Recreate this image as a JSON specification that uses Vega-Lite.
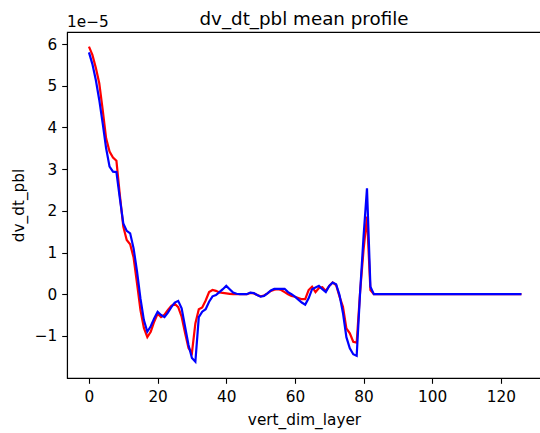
{
  "$schema": "https://vega.github.io/schema/vega-lite/v6.json",
  "autosize": "none",
  "padding": {"left": 67, "top": 32, "right": 0, "bottom": 55},
  "width": 474,
  "height": 346,
  "background": "white",
  "title": {"text": "dv_dt_pbl mean profile", "baseline": "alphabetic", "offset": 9, "dy": 37},
  "data": {"values": [
    {"vert_dim_layer": 0, "red": 5.94e-5, "blue": 5.80e-5},
    {"vert_dim_layer": 1, "red": 5.74e-5, "blue": 5.52e-5},
    {"vert_dim_layer": 2, "red": 5.43e-5, "blue": 5.14e-5},
    {"vert_dim_layer": 3, "red": 5.06e-5, "blue": 4.66e-5},
    {"vert_dim_layer": 4, "red": 4.42e-5, "blue": 4.10e-5},
    {"vert_dim_layer": 5, "red": 3.74e-5, "blue": 3.50e-5},
    {"vert_dim_layer": 6, "red": 3.42e-5, "blue": 3.06e-5},
    {"vert_dim_layer": 7, "red": 3.28e-5, "blue": 2.94e-5},
    {"vert_dim_layer": 8, "red": 3.20e-5, "blue": 2.93e-5},
    {"vert_dim_layer": 9, "red": 2.38e-5, "blue": 2.30e-5},
    {"vert_dim_layer": 10, "red": 1.62e-5, "blue": 1.70e-5},
    {"vert_dim_layer": 11, "red": 1.30e-5, "blue": 1.52e-5},
    {"vert_dim_layer": 12, "red": 1.20e-5, "blue": 1.46e-5},
    {"vert_dim_layer": 13, "red": 0.88e-5, "blue": 1.10e-5},
    {"vert_dim_layer": 14, "red": 0.26e-5, "blue": 0.55e-5},
    {"vert_dim_layer": 15, "red": -0.38e-5, "blue": -0.10e-5},
    {"vert_dim_layer": 16, "red": -0.81e-5, "blue": -0.62e-5},
    {"vert_dim_layer": 17, "red": -1.03e-5, "blue": -0.90e-5},
    {"vert_dim_layer": 18, "red": -0.90e-5, "blue": -0.77e-5},
    {"vert_dim_layer": 19, "red": -0.66e-5, "blue": -0.58e-5},
    {"vert_dim_layer": 20, "red": -0.47e-5, "blue": -0.42e-5},
    {"vert_dim_layer": 21, "red": -0.55e-5, "blue": -0.50e-5},
    {"vert_dim_layer": 22, "red": -0.49e-5, "blue": -0.55e-5},
    {"vert_dim_layer": 23, "red": -0.38e-5, "blue": -0.44e-5},
    {"vert_dim_layer": 24, "red": -0.28e-5, "blue": -0.31e-5},
    {"vert_dim_layer": 25, "red": -0.23e-5, "blue": -0.20e-5},
    {"vert_dim_layer": 26, "red": -0.31e-5, "blue": -0.16e-5},
    {"vert_dim_layer": 27, "red": -0.54e-5, "blue": -0.34e-5},
    {"vert_dim_layer": 28, "red": -0.93e-5, "blue": -0.78e-5},
    {"vert_dim_layer": 29, "red": -1.29e-5, "blue": -1.22e-5},
    {"vert_dim_layer": 30, "red": -1.41e-5, "blue": -1.53e-5},
    {"vert_dim_layer": 31, "red": -0.70e-5, "blue": -1.62e-5},
    {"vert_dim_layer": 32, "red": -0.36e-5, "blue": -0.55e-5},
    {"vert_dim_layer": 33, "red": -0.32e-5, "blue": -0.42e-5},
    {"vert_dim_layer": 34, "red": -0.15e-5, "blue": -0.36e-5},
    {"vert_dim_layer": 35, "red": 0.05e-5, "blue": -0.18e-5},
    {"vert_dim_layer": 36, "red": 0.10e-5, "blue": -0.05e-5},
    {"vert_dim_layer": 37, "red": 0.08e-5, "blue": -0.02e-5},
    {"vert_dim_layer": 38, "red": 0.04e-5, "blue": 0.05e-5},
    {"vert_dim_layer": 39, "red": 0.03e-5, "blue": 0.12e-5},
    {"vert_dim_layer": 40, "red": 0.02e-5, "blue": 0.20e-5},
    {"vert_dim_layer": 41, "red": 0.01e-5, "blue": 0.12e-5},
    {"vert_dim_layer": 42, "red": 0.0, "blue": 0.04e-5},
    {"vert_dim_layer": 43, "red": 0.0, "blue": 0.01e-5},
    {"vert_dim_layer": 44, "red": 0.0, "blue": 0.0},
    {"vert_dim_layer": 45, "red": 0.0, "blue": 0.0},
    {"vert_dim_layer": 46, "red": 0.0, "blue": 0.0},
    {"vert_dim_layer": 47, "red": 0.03e-5, "blue": 0.04e-5},
    {"vert_dim_layer": 48, "red": 0.02e-5, "blue": 0.03e-5},
    {"vert_dim_layer": 49, "red": -0.02e-5, "blue": -0.02e-5},
    {"vert_dim_layer": 50, "red": -0.05e-5, "blue": -0.06e-5},
    {"vert_dim_layer": 51, "red": -0.03e-5, "blue": -0.04e-5},
    {"vert_dim_layer": 52, "red": 0.02e-5, "blue": 0.02e-5},
    {"vert_dim_layer": 53, "red": 0.08e-5, "blue": 0.09e-5},
    {"vert_dim_layer": 54, "red": 0.11e-5, "blue": 0.13e-5},
    {"vert_dim_layer": 55, "red": 0.12e-5, "blue": 0.13e-5},
    {"vert_dim_layer": 56, "red": 0.10e-5, "blue": 0.13e-5},
    {"vert_dim_layer": 57, "red": 0.05e-5, "blue": 0.13e-5},
    {"vert_dim_layer": 58, "red": 0.0, "blue": 0.05e-5},
    {"vert_dim_layer": 59, "red": -0.04e-5, "blue": 0.0},
    {"vert_dim_layer": 60, "red": -0.06e-5, "blue": -0.06e-5},
    {"vert_dim_layer": 61, "red": -0.09e-5, "blue": -0.13e-5},
    {"vert_dim_layer": 62, "red": -0.12e-5, "blue": -0.20e-5},
    {"vert_dim_layer": 63, "red": -0.12e-5, "blue": -0.25e-5},
    {"vert_dim_layer": 64, "red": 0.10e-5, "blue": -0.10e-5},
    {"vert_dim_layer": 65, "red": 0.18e-5, "blue": 0.12e-5},
    {"vert_dim_layer": 66, "red": 0.05e-5, "blue": 0.16e-5},
    {"vert_dim_layer": 67, "red": 0.15e-5, "blue": 0.20e-5},
    {"vert_dim_layer": 68, "red": 0.17e-5, "blue": 0.12e-5},
    {"vert_dim_layer": 69, "red": 0.08e-5, "blue": 0.05e-5},
    {"vert_dim_layer": 70, "red": 0.20e-5, "blue": 0.20e-5},
    {"vert_dim_layer": 71, "red": 0.28e-5, "blue": 0.28e-5},
    {"vert_dim_layer": 72, "red": 0.22e-5, "blue": 0.24e-5},
    {"vert_dim_layer": 73, "red": -0.06e-5, "blue": -0.02e-5},
    {"vert_dim_layer": 74, "red": -0.30e-5, "blue": -0.45e-5},
    {"vert_dim_layer": 75, "red": -0.82e-5, "blue": -1.03e-5},
    {"vert_dim_layer": 76, "red": -0.94e-5, "blue": -1.30e-5},
    {"vert_dim_layer": 77, "red": -1.14e-5, "blue": -1.44e-5},
    {"vert_dim_layer": 78, "red": -1.16e-5, "blue": -1.48e-5},
    {"vert_dim_layer": 79, "red": 0.06e-5, "blue": 0.05e-5},
    {"vert_dim_layer": 80, "red": 1.06e-5, "blue": 1.38e-5},
    {"vert_dim_layer": 81, "red": 1.86e-5, "blue": 2.54e-5},
    {"vert_dim_layer": 82, "red": 0.10e-5, "blue": 0.18e-5},
    {"vert_dim_layer": 83, "red": 0.0, "blue": 0.0},
    {"vert_dim_layer": 84, "red": 0.0, "blue": 0.0},
    {"vert_dim_layer": 85, "red": 0.0, "blue": 0.0},
    {"vert_dim_layer": 86, "red": 0.0, "blue": 0.0},
    {"vert_dim_layer": 87, "red": 0.0, "blue": 0.0},
    {"vert_dim_layer": 88, "red": 0.0, "blue": 0.0},
    {"vert_dim_layer": 89, "red": 0.0, "blue": 0.0},
    {"vert_dim_layer": 90, "red": 0.0, "blue": 0.0},
    {"vert_dim_layer": 91, "red": 0.0, "blue": 0.0},
    {"vert_dim_layer": 92, "red": 0.0, "blue": 0.0},
    {"vert_dim_layer": 93, "red": 0.0, "blue": 0.0},
    {"vert_dim_layer": 94, "red": 0.0, "blue": 0.0},
    {"vert_dim_layer": 95, "red": 0.0, "blue": 0.0},
    {"vert_dim_layer": 96, "red": 0.0, "blue": 0.0},
    {"vert_dim_layer": 97, "red": 0.0, "blue": 0.0},
    {"vert_dim_layer": 98, "red": 0.0, "blue": 0.0},
    {"vert_dim_layer": 99, "red": 0.0, "blue": 0.0},
    {"vert_dim_layer": 100, "red": 0.0, "blue": 0.0},
    {"vert_dim_layer": 101, "red": 0.0, "blue": 0.0},
    {"vert_dim_layer": 102, "red": 0.0, "blue": 0.0},
    {"vert_dim_layer": 103, "red": 0.0, "blue": 0.0},
    {"vert_dim_layer": 104, "red": 0.0, "blue": 0.0},
    {"vert_dim_layer": 105, "red": 0.0, "blue": 0.0},
    {"vert_dim_layer": 106, "red": 0.0, "blue": 0.0},
    {"vert_dim_layer": 107, "red": 0.0, "blue": 0.0},
    {"vert_dim_layer": 108, "red": 0.0, "blue": 0.0},
    {"vert_dim_layer": 109, "red": 0.0, "blue": 0.0},
    {"vert_dim_layer": 110, "red": 0.0, "blue": 0.0},
    {"vert_dim_layer": 111, "red": 0.0, "blue": 0.0},
    {"vert_dim_layer": 112, "red": 0.0, "blue": 0.0},
    {"vert_dim_layer": 113, "red": 0.0, "blue": 0.0},
    {"vert_dim_layer": 114, "red": 0.0, "blue": 0.0},
    {"vert_dim_layer": 115, "red": 0.0, "blue": 0.0},
    {"vert_dim_layer": 116, "red": 0.0, "blue": 0.0},
    {"vert_dim_layer": 117, "red": 0.0, "blue": 0.0},
    {"vert_dim_layer": 118, "red": 0.0, "blue": 0.0},
    {"vert_dim_layer": 119, "red": 0.0, "blue": 0.0},
    {"vert_dim_layer": 120, "red": 0.0, "blue": 0.0},
    {"vert_dim_layer": 121, "red": 0.0, "blue": 0.0},
    {"vert_dim_layer": 122, "red": 0.0, "blue": 0.0},
    {"vert_dim_layer": 123, "red": 0.0, "blue": 0.0},
    {"vert_dim_layer": 124, "red": 0.0, "blue": 0.0},
    {"vert_dim_layer": 125, "red": 0.0, "blue": 0.0},
    {"vert_dim_layer": 126, "red": 0.0, "blue": 0.0}
  ]},
  "layer": [
    {
      "mark": {"type": "line", "color": "#ff0000", "strokeWidth": 2.2},
      "encoding": {
        "x": {
          "field": "vert_dim_layer", "type": "quantitative",
          "scale": {"domain": [-6.4, 131.7], "nice": false, "zero": false},
          "axis": {"values": [0, 20, 40, 60, 80, 100, 120], "title": "vert_dim_layer", "labelPadding": 6, "titlePadding": 8}
        },
        "y": {
          "field": "red", "type": "quantitative",
          "scale": {"domain": [-2.01e-5, 6.29e-5], "nice": false, "zero": false},
          "axis": {
            "values": [-0.00001, 0, 0.00001, 0.00002, 0.00003, 0.00004, 0.00005, 0.00006],
            "labelExpr": "format(datum.value * 1e5, '.0f')",
            "labelPadding": 5,
            "title": "dv_dt_pbl", "titlePadding": 8
          }
        }
      }
    },
    {
      "mark": {"type": "line", "color": "#0000ff", "strokeWidth": 2.2},
      "encoding": {
        "x": {"field": "vert_dim_layer", "type": "quantitative"},
        "y": {"field": "blue", "type": "quantitative"}
      }
    },
    {
      "data": {"values": [{"label": "1e−5"}]},
      "mark": {"type": "text", "align": "left", "baseline": "alphabetic", "dy": -5, "fontSize": 15.3, "color": "black"},
      "encoding": {
        "x": {"datum": -6.4},
        "y": {"datum": 6.29e-5},
        "text": {"field": "label"}
      }
    }
  ],
  "config": {
    "font": "DejaVu Sans",
    "view": {"stroke": "black", "strokeWidth": 1.1},
    "axis": {
      "grid": false,
      "domainColor": "black", "domainWidth": 1.1,
      "tickColor": "black", "tickWidth": 1.1, "tickSize": 5.3,
      "labelColor": "black", "labelFontSize": 15.3, "labelPadding": 4,
      "titleColor": "black", "titleFontSize": 15.3, "titleFontWeight": "normal"
    },
    "title": {"fontSize": 18.3, "fontWeight": "normal", "color": "black"}
  }
}
